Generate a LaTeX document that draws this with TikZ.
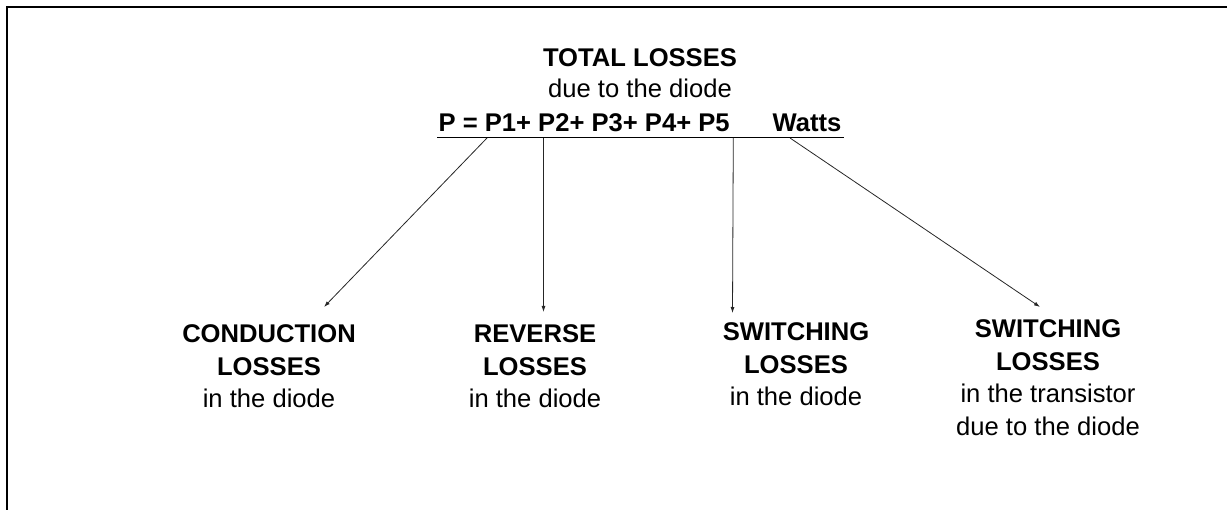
\documentclass[tikz,border=0pt]{standalone}
\usepackage{fontspec}
\setmainfont{Liberation Sans}
\usetikzlibrary{arrows.meta}

\tikzset{
  txt/.style={font=\fontsize{25.6}{32.5}\selectfont, inner sep=0pt},
  lbl/.style={txt, align=center, anchor=north},
  arr/.style={-{Latex[length=6pt,width=4pt]}, line width=0.8pt, black!85}
}

\begin{document}
\begin{tikzpicture}[x=1pt,y=-1pt]
        \useasboundingbox (0,0) rectangle (1227,510);
        \draw[line width=2pt] (7,510) -- (7,6.7) -- (1227,6.7);
        % top
        \path (640,67) node[txt,anchor=base] (title) {\bfseries TOTAL LOSSES}
              (640,98) node[txt,anchor=base] (sub) {due to the diode}
              (640,132) node[txt,anchor=base] (eq) {\bfseries P = P1+ P2+ P3+ P4+ P5\hspace{43pt}Watts};
        \draw[line width=1.8pt] ([xshift=-1pt,yshift=-5pt]eq.south west) -- ([xshift=2pt,yshift=-5pt]eq.south east);
        % bottom
        \node[lbl] (cond) at (269,324.7) {\bfseries CONDUCTION\\\bfseries LOSSES\\in the diode};
        \node[lbl] (rev) at (535,324.7) {\bfseries REVERSE\\\bfseries LOSSES\\in the diode};
        \node[lbl] (swd) at (796,322.7) {\bfseries SWITCHING\\\bfseries LOSSES\\in the diode};
        \node[lbl] (swt) at (1048,319.7) {\bfseries SWITCHING\\\bfseries LOSSES\\in the transistor\\due to the diode};
        % arrows
        \coordinate (p1) at (487,138);
        \coordinate (p2) at (543.5,138);
        \coordinate (p4) at (733.3,138);
        \coordinate (p5) at (790,138);
        \coordinate (c1) at (324,307);
        \coordinate (c2) at (543.5,312);
        \coordinate (c4) at (732.5,313);
        \coordinate (c5) at (1040,307);
        \draw[arr] (p1) -- (c1);
        \draw[arr] (p2) -- (c2);
        \draw[arr] (p4) -- (c4);
        \draw[arr] (p5) -- (c5);
    \end{tikzpicture}
\end{document}
